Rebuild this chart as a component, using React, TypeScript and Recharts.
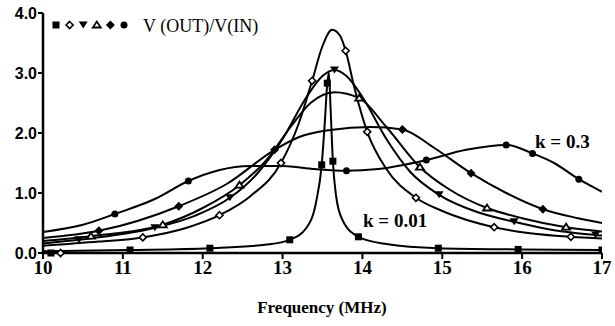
import { ComposedChart, Line, Scatter, XAxis, YAxis } from "recharts";

// frequency (MHz) / gain pairs
const squareCurve: [number, number][] = [
  [10, 0.03], [11.09, 0.05], [12.09, 0.08], [12.8, 0.14], [13.09, 0.22],
  [13.3, 0.42], [13.42, 0.85], [13.49, 1.47], [13.53, 2.2], [13.56, 2.83],
  [13.58, 3.0], [13.6, 2.45], [13.63, 1.53], [13.67, 0.95], [13.75, 0.55],
  [13.95, 0.27], [14.3, 0.15], [14.95, 0.08], [15.95, 0.06], [17, 0.05],
];
const openDiamondCurve: [number, number][] = [
  [10, 0.12], [10.7, 0.19], [11.25, 0.26], [11.8, 0.42], [12.21, 0.63],
  [12.6, 0.95], [12.98, 1.5], [13.2, 2.15], [13.37, 2.87], [13.5, 3.45],
  [13.62, 3.72], [13.72, 3.62], [13.79, 3.37], [13.9, 2.75], [14.06, 2.02],
  [14.3, 1.4], [14.67, 0.92], [15.0, 0.7], [15.65, 0.43], [16.1, 0.33],
  [16.61, 0.27], [17, 0.24],
];
const downTriCurve: [number, number][] = [
  [10, 0.16], [10.45, 0.22], [11.4, 0.42], [11.9, 0.62], [12.34, 0.92],
  [12.7, 1.35], [13.0, 1.9], [13.3, 2.6], [13.5, 2.95], [13.65, 3.05],
  [13.8, 2.95], [14.0, 2.6], [14.3, 1.9], [14.6, 1.35], [14.96, 0.97],
  [15.4, 0.7], [15.9, 0.52], [16.4, 0.38], [16.92, 0.3], [17, 0.29],
];
const upTriCurve: [number, number][] = [
  [10, 0.2], [10.6, 0.28], [11.5, 0.47], [12.0, 0.75], [12.46, 1.13],
  [12.8, 1.55], [13.1, 2.1], [13.35, 2.5], [13.65, 2.68], [13.96, 2.58],
  [14.3, 2.1], [14.72, 1.43], [15.1, 1.05], [15.56, 0.75], [16.0, 0.58],
  [16.55, 0.43], [17, 0.36],
];
const solidDiamondCurve: [number, number][] = [
  [10, 0.25], [10.7, 0.37], [11.7, 0.78], [12.3, 1.15], [12.9, 1.72],
  [13.2, 1.93], [13.6, 2.05], [14.1, 2.1], [14.5, 2.06], [14.9, 1.75],
  [15.36, 1.33], [15.8, 1.0], [16.26, 0.73], [16.7, 0.58], [17, 0.5],
];
const circleCurve: [number, number][] = [
  [10, 0.35], [10.5, 0.47], [10.9, 0.65], [11.4, 0.9], [11.82, 1.2],
  [12.2, 1.38], [12.6, 1.45], [13.0, 1.45], [13.4, 1.4], [13.8, 1.37],
  [14.2, 1.4], [14.8, 1.55], [15.3, 1.72], [15.8, 1.8], [16.13, 1.66],
  [16.4, 1.5], [16.71, 1.23], [17, 1.02],
];

// frequencies where a symbol sits on each curve
const squareMarks = [10.1, 11.09, 12.09, 13.09, 13.49, 13.56, 13.63, 13.95, 14.95, 15.95, 17];
const openDiamondMarks = [10.22, 11.25, 12.21, 12.98, 13.37, 13.79, 14.06, 14.67, 15.65, 16.61];
const downTriMarks = [10.45, 11.4, 12.34, 13.65, 14.96, 15.9, 16.92];
const upTriMarks = [10.6, 11.5, 12.46, 13.96, 14.72, 15.56, 16.55];
const solidDiamondMarks = [10.7, 11.7, 12.9, 14.5, 15.36, 16.26];
const circleMarks = [10.9, 11.82, 13.8, 14.8, 15.8, 16.13, 16.71];

const freqTicks = [10, 11, 12, 13, 14, 15, 16, 17];
const ratioTicks = [0, 1, 2, 3, 4];

type Kind = "square" | "openDiamond" | "downTri" | "upTri" | "solidDiamond" | "circle";

const toRows = (pts: [number, number][]) => pts.map(([f, v]) => ({ f, v }));
const pick = (pts: [number, number][], fs: number[]) =>
  fs.map((f) => {
    const hit = pts.find((p) => Math.abs(p[0] - f) < 1e-6);
    return { f, v: hit ? hit[1] : 0 };
  });

function Marker({ kind, x, y }: { kind: Kind; x: number; y: number }) {
  const s = 3.5;
  switch (kind) {
    case "square":
      return <rect x={x - s} y={y - s} width={2 * s} height={2 * s} fill="#000" />;
    case "openDiamond":
      return (
        <polygon
          points={`${x},${y - s} ${x + s},${y} ${x},${y + s} ${x - s},${y}`}
          fill="#fff"
          stroke="#000"
          strokeWidth={1.6}
        />
      );
    case "solidDiamond":
      return (
        <polygon
          points={`${x},${y - s - 1} ${x + s + 1},${y} ${x},${y + s + 1} ${x - s - 1},${y}`}
          fill="#000"
        />
      );
    case "downTri":
      return (
        <polygon points={`${x - s - 1},${y - s} ${x + s + 1},${y - s} ${x},${y + s}`} fill="#000" />
      );
    case "upTri":
      return (
        <polygon
          points={`${x - s - 0.5},${y + s - 1} ${x + s + 0.5},${y + s - 1} ${x},${y - s}`}
          fill="#fff"
          stroke="#000"
          strokeWidth={1.8}
        />
      );
    default:
      return <circle cx={x} cy={y} r={s} fill="#000" />;
  }
}

const shapeFor = (kind: Kind) => (props: any) =>
  props.cx == null ? <g /> : <Marker kind={kind} x={props.cx} y={props.cy} />;

const series: { kind: Kind; curve: [number, number][]; marks: number[] }[] = [
  { kind: "square", curve: squareCurve, marks: squareMarks },
  { kind: "openDiamond", curve: openDiamondCurve, marks: openDiamondMarks },
  { kind: "downTri", curve: downTriCurve, marks: downTriMarks },
  { kind: "upTri", curve: upTriCurve, marks: upTriMarks },
  { kind: "solidDiamond", curve: solidDiamondCurve, marks: solidDiamondMarks },
  { kind: "circle", curve: circleCurve, marks: circleMarks },
];

const legendKinds: Kind[] = ["square", "openDiamond", "downTri", "upTri", "solidDiamond", "circle"];

export default function App() {
  return (
    <div style={{ position: "absolute", left: 0, top: 0, width: 615, height: 326, background: "#fff" }}>
      <ComposedChart
        width={615}
        height={326}
        margin={{ top: 13, right: 13, bottom: 43, left: 0 }}
      >
        <XAxis
          type="number"
          dataKey="f"
          domain={[10, 17]}
          ticks={freqTicks}
          allowDataOverflow
          axisLine={{ stroke: "#000", strokeWidth: 2.5 }}
          tickLine={{ stroke: "#000", strokeWidth: 2 }}
          tickSize={6}
          height={30}
          tick={{ fill: "#000", fontSize: 19, fontFamily: "'Liberation Serif', serif", fontWeight: 700 }}
        />
        <YAxis
          type="number"
          domain={[0, 4]}
          ticks={ratioTicks}
          width={43}
          axisLine={{ stroke: "#000", strokeWidth: 2.5 }}
          tickLine={{ stroke: "#000", strokeWidth: 2 }}
          tickSize={5}
          tickMargin={1}
          tickFormatter={(v: number) => v.toFixed(1)}
          tick={{ fill: "#000", fontSize: 16, fontFamily: "'Liberation Sans', sans-serif", fontWeight: 700 }}
        />
        {series.map((s) => (
          <Line
            key={s.kind}
            data={toRows(s.curve)}
            dataKey="v"
            type="monotone"
            stroke="#000"
            strokeWidth={2}
            dot={false}
            activeDot={false}
            isAnimationActive={false}
          />
        ))}
        {series.map((s) => (
          <Scatter
            key={s.kind + "-m"}
            data={pick(s.curve, s.marks)}
            dataKey="v"
            shape={shapeFor(s.kind)}
            isAnimationActive={false}
          />
        ))}
      </ComposedChart>
      <svg
        width={615}
        height={326}
        style={{ position: "absolute", left: 0, top: 0, pointerEvents: "none" }}
      >
        {legendKinds.map((k, i) => (
          <Marker key={k} kind={k} x={56 + i * 13.6} y={25} />
        ))}
        <text x={143} y={32} fontFamily="'Liberation Serif', serif" fontSize={18} fill="#000">
          V (OUT)/V(IN)
        </text>
        <text x={535} y={148} fontFamily="'Liberation Serif', serif" fontSize={19} fontWeight={700} fill="#000">
          k = 0.3
        </text>
        <text x={363} y={227} fontFamily="'Liberation Serif', serif" fontSize={19} fontWeight={700} fill="#000">
          k = 0.01
        </text>
        <text
          x={322}
          y={313}
          textAnchor="middle"
          fontFamily="'Liberation Serif', serif"
          fontSize={17}
          fontWeight={700}
          fill="#000"
        >
          Frequency (MHz)
        </text>
      </svg>
    </div>
  );
}
